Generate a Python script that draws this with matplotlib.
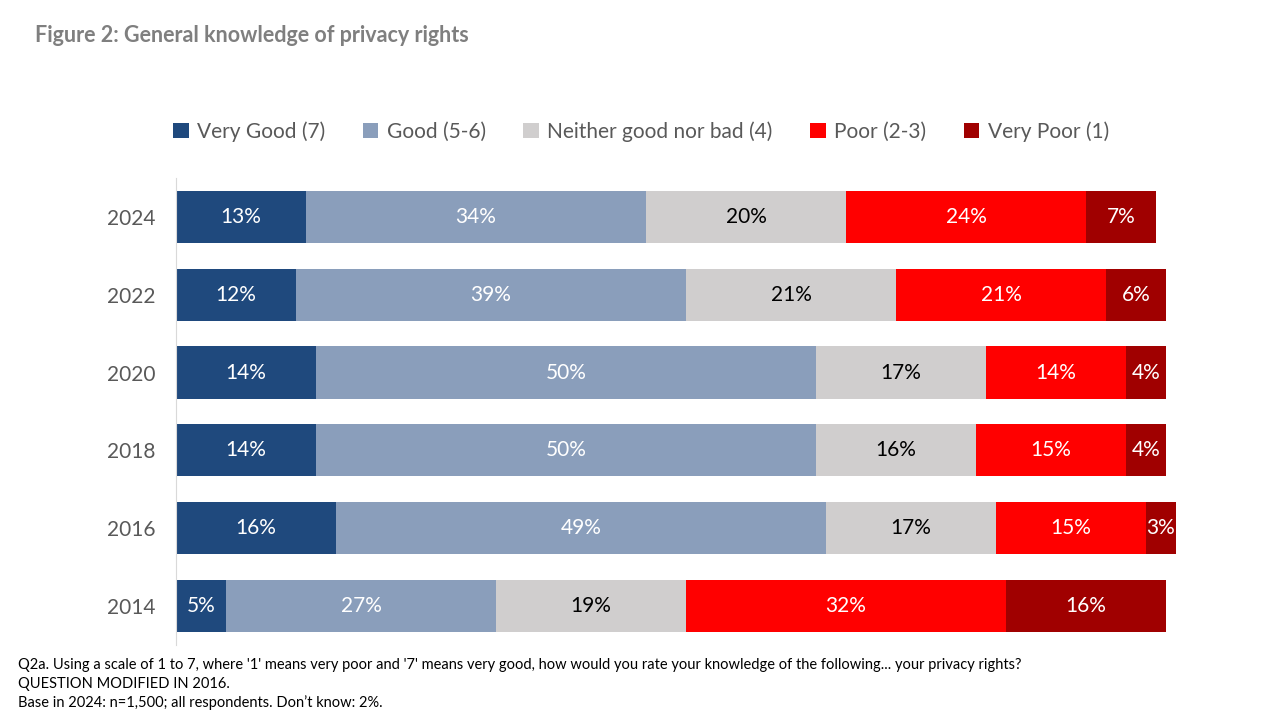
'''Stacked bar chart: general knowledge of privacy rights'''
import numpy as np
from matplotlib import pyplot as plt

plt.rcParams['font.family'] = ['Lato', 'DejaVu Sans']

YEARS = ['2024', '2022', '2020', '2018', '2016', '2014']
CATEGORIES = ['Very Good (7)', 'Good (5-6)', 'Neither good nor bad (4)',
              'Poor (2-3)', 'Very Poor (1)']
VERY_GOOD = [13, 12, 14, 14, 16, 5]
GOOD = [34, 39, 50, 50, 49, 27]
NEITHER = [20, 21, 17, 16, 17, 19]
POOR = [24, 21, 14, 15, 15, 32]
VERY_POOR = [7, 6, 4, 4, 3, 16]

COLOURS = ['#1F497D', '#8A9EBB', '#D0CECE', '#FF0000', '#A00000']
TEXT_COLOURS = ['white', 'white', 'black', 'white', 'white']

FOOTNOTES = [
    "Q2a. Using a scale of 1 to 7, where '1' means very poor and '7' means very good, "
    "how would you rate your knowledge of the following... your privacy rights?",
    "QUESTION MODIFIED IN 2016.",
    "Base in 2024: n=1,500; all respondents. Don\u2019t know: 2%.",
]

fig = plt.figure(figsize=(12.8, 7.2), dpi=100)
ax = fig.add_axes([0.1375, 0.1042, 0.78125, 0.6486])

series = [VERY_GOOD, GOOD, NEITHER, POOR, VERY_POOR]
pos = np.arange(len(YEARS))[::-1]
left = np.zeros(len(YEARS))
for values, colour, txt, name in zip(series, COLOURS, TEXT_COLOURS, CATEGORIES):
    vals = np.array(values, dtype=float)
    bars = ax.barh(pos, vals, left=left, height=0.67, color=colour,
                   label=name, edgecolor='none')
    for rect, v in zip(bars, vals):
        ax.text(rect.get_x() + rect.get_width() / 2, rect.get_y() + rect.get_height() / 2,
                f'{int(v)}%', ha='center', va='center', color=txt, fontsize=15)
    left += vals

ax.set_xlim(0, 100)
ax.set_ylim(-0.5, len(YEARS) - 0.5)
ax.set_yticks(pos)
ax.set_yticklabels(YEARS, fontsize=15, color='#595959')
ax.set_xticks([])
ax.tick_params(axis='y', length=0, pad=15)
for side in ['top', 'right', 'bottom']:
    ax.spines[side].set_visible(False)
ax.spines['left'].set_color('#D9D9D9')

ax.legend(loc='lower left', bbox_to_anchor=(-0.003, 1.077), ncol=5, frameon=False,
          fontsize=15, labelcolor='#595959', handlelength=0.75, handleheight=0.75,
          handletextpad=0.4, columnspacing=1.8, borderaxespad=0, borderpad=0)

fig.text(0.027, 0.95, 'Figure 2: General knowledge of privacy rights', fontsize=15.5,
         fontweight='bold', color='#7F7F7F', va='center')
for i, line in enumerate(FOOTNOTES):
    fig.text(0.014, 0.077 - i * 0.0265, line, fontsize=10.5, color='black', va='center')

fig.savefig('out.png', dpi=100)
